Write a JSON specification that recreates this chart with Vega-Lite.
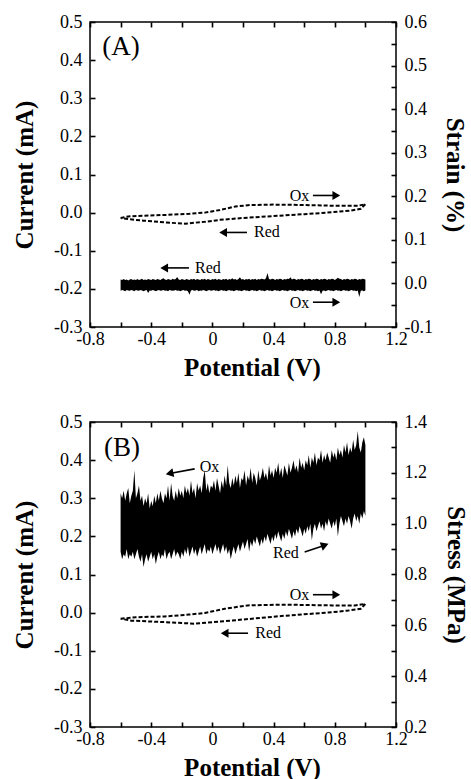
{
"$schema": "https://vega.github.io/schema/vega-lite/v6.json",
"padding": {"left": 11, "top": 12, "right": 0, "bottom": 0},
"spacing": 31,
"config": {
  "font": "Liberation Serif",
  "view": {"stroke": "black", "strokeWidth": 1.5},
  "axis": {"labelFont": "Liberation Serif", "labelFontSize": 18, "labelColor": "black", "titleFont": "Liberation Serif", "titleFontSize": 25, "titleFontWeight": "bold", "titleColor": "black", "domain": false, "ticks": true, "tickColor": "black", "tickOpacity": 1, "tickWidth": 1.6, "tickSize": 5, "offset": -5, "labelPadding": 8, "grid": false, "labelOverlap": false, "labelFlush": false, "zindex": 1},
  "text": {"font": "Liberation Serif", "color": "black"}
},
"datasets": {
  "loopA": [
    {"i":0,"x":-0.60,"y":-0.014},{"i":1,"x":-0.55,"y":-0.010},{"i":2,"x":-0.45,"y":-0.008},{"i":3,"x":-0.30,"y":-0.006},{"i":4,"x":-0.15,"y":-0.003},{"i":5,"x":-0.05,"y":0.000},{"i":6,"x":0.05,"y":0.007},{"i":7,"x":0.15,"y":0.016},{"i":8,"x":0.25,"y":0.020},{"i":9,"x":0.40,"y":0.021},{"i":10,"x":0.60,"y":0.020},{"i":11,"x":0.80,"y":0.018},{"i":12,"x":0.95,"y":0.018},{"i":13,"x":1.00,"y":0.022},{"i":14,"x":0.97,"y":0.010},{"i":15,"x":0.90,"y":0.005},{"i":16,"x":0.75,"y":0.000},{"i":17,"x":0.60,"y":-0.004},{"i":18,"x":0.40,"y":-0.009},{"i":19,"x":0.20,"y":-0.014},{"i":20,"x":0.05,"y":-0.019},{"i":21,"x":-0.05,"y":-0.024},{"i":22,"x":-0.18,"y":-0.029},{"i":23,"x":-0.30,"y":-0.026},{"i":24,"x":-0.45,"y":-0.021},{"i":25,"x":-0.55,"y":-0.017},{"i":26,"x":-0.60,"y":-0.014}
  ],
  "loopB": [
    {"i":0,"x":-0.60,"y":-0.016},{"i":1,"x":-0.50,"y":-0.012},{"i":2,"x":-0.31,"y":-0.010},{"i":3,"x":-0.15,"y":-0.005},{"i":4,"x":-0.05,"y":-0.001},{"i":5,"x":0.08,"y":0.010},{"i":6,"x":0.23,"y":0.019},{"i":7,"x":0.45,"y":0.021},{"i":8,"x":0.78,"y":0.019},{"i":9,"x":0.93,"y":0.019},{"i":10,"x":1.00,"y":0.023},{"i":11,"x":0.97,"y":0.010},{"i":12,"x":0.88,"y":0.005},{"i":13,"x":0.78,"y":0.001},{"i":14,"x":0.45,"y":-0.009},{"i":15,"x":0.12,"y":-0.021},{"i":16,"x":-0.12,"y":-0.029},{"i":17,"x":-0.31,"y":-0.025},{"i":18,"x":-0.53,"y":-0.021},{"i":19,"x":-0.60,"y":-0.016}
  ],
  "textA": [
    {"x":-0.72,"y":0.434,"text":"(A)","kind":"panel"},
    {"x":0.505,"y":0.044,"text":"Ox","kind":"note"},
    {"x":0.272,"y":-0.052,"text":"Red","kind":"note"},
    {"x":-0.114,"y":-0.145,"text":"Red","kind":"note"},
    {"x":0.505,"y":-0.237,"text":"Ox","kind":"note"}
  ],
  "arrowA": [
    {"x":0.657,"y":0.045,"x2":0.81,"y2":0.045,"angle":0},
    {"x":0.226,"y":-0.052,"x2":0.07,"y2":-0.052,"angle":180},
    {"x":-0.153,"y":-0.145,"x2":-0.315,"y2":-0.145,"angle":180},
    {"x":0.657,"y":-0.235,"x2":0.81,"y2":-0.235,"angle":0}
  ],
  "textB": [
    {"x":-0.708,"y":0.431,"text":"(B)","kind":"panel"},
    {"x":-0.083,"y":0.383,"text":"Ox","kind":"note"},
    {"x":0.396,"y":0.156,"text":"Red","kind":"note"},
    {"x":0.505,"y":0.045,"text":"Ox","kind":"note"},
    {"x":0.28,"y":-0.054,"text":"Red","kind":"note"}
  ],
  "arrowB": [
    {"x":-0.116,"y":0.377,"x2":-0.28,"y2":0.365,"angle":168},
    {"x":0.603,"y":0.159,"x2":0.735,"y2":0.177,"angle":340},
    {"x":0.657,"y":0.047,"x2":0.81,"y2":0.047,"angle":0},
    {"x":0.233,"y":-0.054,"x2":0.08,"y2":-0.054,"angle":180}
  ],
  "bandA": [
    {"x":-0.60,"lo":-0.017,"hi":0.009},{"x":-0.59,"lo":-0.015,"hi":0.008},{"x":-0.58,"lo":-0.016,"hi":0.010},{"x":-0.57,"lo":-0.018,"hi":0.008},{"x":-0.56,"lo":-0.015,"hi":0.009},{"x":-0.55,"lo":-0.016,"hi":0.007},{"x":-0.54,"lo":-0.017,"hi":0.009},{"x":-0.53,"lo":-0.015,"hi":0.010},{"x":-0.52,"lo":-0.016,"hi":0.008},{"x":-0.51,"lo":-0.018,"hi":0.009},
    {"x":-0.50,"lo":-0.015,"hi":0.008},{"x":-0.49,"lo":-0.016,"hi":0.010},{"x":-0.48,"lo":-0.017,"hi":0.008},{"x":-0.47,"lo":-0.015,"hi":0.009},{"x":-0.46,"lo":-0.016,"hi":0.011},{"x":-0.45,"lo":-0.018,"hi":0.008},{"x":-0.44,"lo":-0.016,"hi":0.009},{"x":-0.43,"lo":-0.015,"hi":0.008},{"x":-0.42,"lo":-0.022,"hi":0.010},{"x":-0.41,"lo":-0.016,"hi":0.009},
    {"x":-0.40,"lo":-0.017,"hi":0.008},{"x":-0.39,"lo":-0.015,"hi":0.010},{"x":-0.38,"lo":-0.016,"hi":0.009},{"x":-0.37,"lo":-0.018,"hi":0.008},{"x":-0.36,"lo":-0.016,"hi":0.010},{"x":-0.35,"lo":-0.015,"hi":0.009},{"x":-0.34,"lo":-0.017,"hi":0.008},{"x":-0.33,"lo":-0.016,"hi":0.010},{"x":-0.32,"lo":-0.015,"hi":0.012},{"x":-0.31,"lo":-0.017,"hi":0.009},
    {"x":-0.30,"lo":-0.016,"hi":0.008},{"x":-0.29,"lo":-0.018,"hi":0.010},{"x":-0.28,"lo":-0.015,"hi":0.009},{"x":-0.27,"lo":-0.016,"hi":0.008},{"x":-0.26,"lo":-0.017,"hi":0.011},{"x":-0.25,"lo":-0.016,"hi":0.009},{"x":-0.24,"lo":-0.015,"hi":0.010},{"x":-0.23,"lo":-0.017,"hi":0.015},{"x":-0.22,"lo":-0.016,"hi":0.009},{"x":-0.21,"lo":-0.018,"hi":0.008},
    {"x":-0.20,"lo":-0.016,"hi":0.010},{"x":-0.19,"lo":-0.015,"hi":0.009},{"x":-0.18,"lo":-0.017,"hi":0.008},{"x":-0.17,"lo":-0.016,"hi":0.010},{"x":-0.16,"lo":-0.018,"hi":0.009},{"x":-0.15,"lo":-0.026,"hi":0.008},{"x":-0.14,"lo":-0.016,"hi":0.010},{"x":-0.13,"lo":-0.015,"hi":0.009},{"x":-0.12,"lo":-0.017,"hi":0.011},{"x":-0.11,"lo":-0.016,"hi":0.008},
    {"x":-0.10,"lo":-0.015,"hi":0.010},{"x":-0.09,"lo":-0.018,"hi":0.009},{"x":-0.08,"lo":-0.016,"hi":0.008},{"x":-0.07,"lo":-0.017,"hi":0.010},{"x":-0.06,"lo":-0.015,"hi":0.009},{"x":-0.05,"lo":-0.016,"hi":0.011},{"x":-0.04,"lo":-0.018,"hi":0.008},{"x":-0.03,"lo":-0.016,"hi":0.010},{"x":-0.02,"lo":-0.015,"hi":0.009},{"x":-0.01,"lo":-0.017,"hi":0.008},
    {"x":0.00,"lo":-0.016,"hi":0.010},{"x":0.01,"lo":-0.015,"hi":0.009},{"x":0.02,"lo":-0.017,"hi":0.011},{"x":0.03,"lo":-0.016,"hi":0.008},{"x":0.04,"lo":-0.018,"hi":0.010},{"x":0.05,"lo":-0.016,"hi":0.009},{"x":0.06,"lo":-0.015,"hi":0.008},{"x":0.07,"lo":-0.017,"hi":0.010},{"x":0.08,"lo":-0.016,"hi":0.009},{"x":0.09,"lo":-0.018,"hi":0.011},
    {"x":0.10,"lo":-0.016,"hi":0.008},{"x":0.11,"lo":-0.015,"hi":0.010},{"x":0.12,"lo":-0.017,"hi":0.009},{"x":0.13,"lo":-0.016,"hi":0.012},{"x":0.14,"lo":-0.018,"hi":0.009},{"x":0.15,"lo":-0.016,"hi":0.010},{"x":0.16,"lo":-0.015,"hi":0.008},{"x":0.17,"lo":-0.017,"hi":0.010},{"x":0.18,"lo":-0.016,"hi":0.014},{"x":0.19,"lo":-0.018,"hi":0.009},
    {"x":0.20,"lo":-0.016,"hi":0.010},{"x":0.21,"lo":-0.015,"hi":0.008},{"x":0.22,"lo":-0.017,"hi":0.010},{"x":0.23,"lo":-0.016,"hi":0.009},{"x":0.24,"lo":-0.018,"hi":0.011},{"x":0.25,"lo":-0.016,"hi":0.008},{"x":0.26,"lo":-0.015,"hi":0.010},{"x":0.27,"lo":-0.017,"hi":0.009},{"x":0.28,"lo":-0.016,"hi":0.011},{"x":0.29,"lo":-0.018,"hi":0.008},
    {"x":0.30,"lo":-0.016,"hi":0.010},{"x":0.31,"lo":-0.015,"hi":0.009},{"x":0.32,"lo":-0.017,"hi":0.011},{"x":0.33,"lo":-0.016,"hi":0.010},{"x":0.34,"lo":-0.018,"hi":0.009},{"x":0.35,"lo":-0.016,"hi":0.012},{"x":0.36,"lo":-0.015,"hi":0.024},{"x":0.37,"lo":-0.017,"hi":0.010},{"x":0.38,"lo":-0.016,"hi":0.009},{"x":0.39,"lo":-0.018,"hi":0.011},
    {"x":0.40,"lo":-0.016,"hi":0.010},{"x":0.41,"lo":-0.015,"hi":0.008},{"x":0.42,"lo":-0.017,"hi":0.010},{"x":0.43,"lo":-0.016,"hi":0.009},{"x":0.44,"lo":-0.018,"hi":0.011},{"x":0.45,"lo":-0.016,"hi":0.010},{"x":0.46,"lo":-0.015,"hi":0.008},{"x":0.47,"lo":-0.017,"hi":0.010},{"x":0.48,"lo":-0.016,"hi":0.009},{"x":0.49,"lo":-0.018,"hi":0.011},
    {"x":0.50,"lo":-0.016,"hi":0.010},{"x":0.51,"lo":-0.015,"hi":0.014},{"x":0.52,"lo":-0.017,"hi":0.009},{"x":0.53,"lo":-0.016,"hi":0.011},{"x":0.54,"lo":-0.018,"hi":0.010},{"x":0.55,"lo":-0.016,"hi":0.008},{"x":0.56,"lo":-0.015,"hi":0.010},{"x":0.57,"lo":-0.017,"hi":0.009},{"x":0.58,"lo":-0.016,"hi":0.011},{"x":0.59,"lo":-0.018,"hi":0.010},
    {"x":0.60,"lo":-0.016,"hi":0.008},{"x":0.61,"lo":-0.015,"hi":0.010},{"x":0.62,"lo":-0.017,"hi":0.009},{"x":0.63,"lo":-0.016,"hi":0.011},{"x":0.64,"lo":-0.018,"hi":0.010},{"x":0.65,"lo":-0.016,"hi":0.008},{"x":0.66,"lo":-0.015,"hi":0.010},{"x":0.67,"lo":-0.017,"hi":0.009},{"x":0.68,"lo":-0.016,"hi":0.011},{"x":0.69,"lo":-0.018,"hi":0.010},
    {"x":0.70,"lo":-0.016,"hi":0.008},{"x":0.71,"lo":-0.025,"hi":0.010},{"x":0.72,"lo":-0.017,"hi":0.009},{"x":0.73,"lo":-0.016,"hi":0.011},{"x":0.74,"lo":-0.018,"hi":0.010},{"x":0.75,"lo":-0.016,"hi":0.008},{"x":0.76,"lo":-0.015,"hi":0.010},{"x":0.77,"lo":-0.017,"hi":0.009},{"x":0.78,"lo":-0.016,"hi":0.011},{"x":0.79,"lo":-0.018,"hi":0.010},
    {"x":0.80,"lo":-0.016,"hi":0.008},{"x":0.81,"lo":-0.015,"hi":0.010},{"x":0.82,"lo":-0.017,"hi":0.013},{"x":0.83,"lo":-0.016,"hi":0.011},{"x":0.84,"lo":-0.018,"hi":0.010},{"x":0.85,"lo":-0.016,"hi":0.008},{"x":0.86,"lo":-0.015,"hi":0.010},{"x":0.87,"lo":-0.017,"hi":0.009},{"x":0.88,"lo":-0.016,"hi":0.011},{"x":0.89,"lo":-0.018,"hi":0.010},
    {"x":0.90,"lo":-0.016,"hi":0.008},{"x":0.91,"lo":-0.015,"hi":0.010},{"x":0.92,"lo":-0.017,"hi":0.009},{"x":0.93,"lo":-0.016,"hi":0.011},{"x":0.94,"lo":-0.018,"hi":0.010},{"x":0.95,"lo":-0.016,"hi":0.008},{"x":0.96,"lo":-0.031,"hi":0.010},{"x":0.97,"lo":-0.017,"hi":0.009},{"x":0.98,"lo":-0.016,"hi":0.011},{"x":0.99,"lo":-0.018,"hi":0.010},
    {"x":1.00,"lo":-0.016,"hi":0.009}
  ],
  "bandB": [
    {"x":-0.60,"hi":1.12,"lo":0.89},{"x":-0.59,"hi":1.10,"lo":0.86},{"x":-0.58,"hi":1.13,"lo":0.88},{"x":-0.57,"hi":1.09,"lo":0.87},{"x":-0.56,"hi":1.12,"lo":0.90},{"x":-0.55,"hi":1.14,"lo":0.86},{"x":-0.54,"hi":1.08,"lo":0.88},{"x":-0.53,"hi":1.11,"lo":0.87},{"x":-0.52,"hi":1.13,"lo":0.89},{"x":-0.51,"hi":1.21,"lo":0.86},
    {"x":-0.50,"hi":1.10,"lo":0.88},{"x":-0.49,"hi":1.12,"lo":0.90},{"x":-0.48,"hi":1.15,"lo":0.87},{"x":-0.47,"hi":1.09,"lo":0.85},{"x":-0.46,"hi":1.11,"lo":0.88},{"x":-0.45,"hi":1.07,"lo":0.83},{"x":-0.44,"hi":1.10,"lo":0.86},{"x":-0.43,"hi":1.08,"lo":0.88},{"x":-0.42,"hi":1.12,"lo":0.85},{"x":-0.41,"hi":1.06,"lo":0.87},
    {"x":-0.40,"hi":1.09,"lo":0.89},{"x":-0.39,"hi":1.07,"lo":0.86},{"x":-0.38,"hi":1.11,"lo":0.88},{"x":-0.37,"hi":1.08,"lo":0.84},{"x":-0.36,"hi":1.12,"lo":0.87},{"x":-0.35,"hi":1.09,"lo":0.89},{"x":-0.34,"hi":1.13,"lo":0.86},{"x":-0.33,"hi":1.10,"lo":0.88},{"x":-0.32,"hi":1.08,"lo":0.87},{"x":-0.31,"hi":1.12,"lo":0.90},
    {"x":-0.30,"hi":1.10,"lo":0.86},{"x":-0.29,"hi":1.15,"lo":0.88},{"x":-0.28,"hi":1.09,"lo":0.89},{"x":-0.27,"hi":1.16,"lo":0.86},{"x":-0.26,"hi":1.11,"lo":0.88},{"x":-0.25,"hi":1.09,"lo":0.90},{"x":-0.24,"hi":1.13,"lo":0.87},{"x":-0.23,"hi":1.10,"lo":0.89},{"x":-0.22,"hi":1.14,"lo":0.88},{"x":-0.21,"hi":1.11,"lo":0.86},
    {"x":-0.20,"hi":1.13,"lo":0.89},{"x":-0.19,"hi":1.10,"lo":0.87},{"x":-0.18,"hi":1.15,"lo":0.90},{"x":-0.17,"hi":1.12,"lo":0.88},{"x":-0.16,"hi":1.14,"lo":0.91},{"x":-0.15,"hi":1.11,"lo":0.87},{"x":-0.14,"hi":1.17,"lo":0.89},{"x":-0.13,"hi":1.12,"lo":0.91},{"x":-0.12,"hi":1.14,"lo":0.88},{"x":-0.11,"hi":1.10,"lo":0.90},
    {"x":-0.10,"hi":1.16,"lo":0.87},{"x":-0.09,"hi":1.13,"lo":0.89},{"x":-0.08,"hi":1.15,"lo":0.91},{"x":-0.07,"hi":1.12,"lo":0.88},{"x":-0.06,"hi":1.18,"lo":0.90},{"x":-0.05,"hi":1.21,"lo":0.92},{"x":-0.04,"hi":1.13,"lo":0.88},{"x":-0.03,"hi":1.16,"lo":0.90},{"x":-0.02,"hi":1.12,"lo":0.89},{"x":-0.01,"hi":1.15,"lo":0.91},
    {"x":0.00,"hi":1.14,"lo":0.88},{"x":0.01,"hi":1.17,"lo":0.90},{"x":0.02,"hi":1.13,"lo":0.92},{"x":0.03,"hi":1.18,"lo":0.89},{"x":0.04,"hi":1.15,"lo":0.91},{"x":0.05,"hi":1.12,"lo":0.88},{"x":0.06,"hi":1.17,"lo":0.90},{"x":0.07,"hi":1.14,"lo":0.92},{"x":0.08,"hi":1.19,"lo":0.89},{"x":0.09,"hi":1.15,"lo":0.91},
    {"x":0.10,"hi":1.23,"lo":0.88},{"x":0.11,"hi":1.16,"lo":0.90},{"x":0.12,"hi":1.14,"lo":0.86},{"x":0.13,"hi":1.18,"lo":0.89},{"x":0.14,"hi":1.15,"lo":0.91},{"x":0.15,"hi":1.19,"lo":0.88},{"x":0.16,"hi":1.16,"lo":0.90},{"x":0.17,"hi":1.20,"lo":0.92},{"x":0.18,"hi":1.14,"lo":0.89},{"x":0.19,"hi":1.18,"lo":0.91},
    {"x":0.20,"hi":1.17,"lo":0.93},{"x":0.21,"hi":1.21,"lo":0.90},{"x":0.22,"hi":1.15,"lo":0.92},{"x":0.23,"hi":1.19,"lo":0.94},{"x":0.24,"hi":1.17,"lo":0.89},{"x":0.25,"hi":1.22,"lo":0.93},{"x":0.26,"hi":1.16,"lo":0.91},{"x":0.27,"hi":1.20,"lo":0.94},{"x":0.28,"hi":1.18,"lo":0.92},{"x":0.29,"hi":1.15,"lo":0.95},
    {"x":0.30,"hi":1.21,"lo":0.93},{"x":0.31,"hi":1.17,"lo":0.91},{"x":0.32,"hi":1.19,"lo":0.94},{"x":0.33,"hi":1.22,"lo":0.92},{"x":0.34,"hi":1.18,"lo":0.95},{"x":0.35,"hi":1.20,"lo":0.93},{"x":0.36,"hi":1.17,"lo":0.96},{"x":0.37,"hi":1.23,"lo":0.94},{"x":0.38,"hi":1.19,"lo":0.92},{"x":0.39,"hi":1.21,"lo":0.95},
    {"x":0.40,"hi":1.18,"lo":0.93},{"x":0.41,"hi":1.22,"lo":0.96},{"x":0.42,"hi":1.20,"lo":0.94},{"x":0.43,"hi":1.24,"lo":0.97},{"x":0.44,"hi":1.19,"lo":0.95},{"x":0.45,"hi":1.22,"lo":0.93},{"x":0.46,"hi":1.18,"lo":0.96},{"x":0.47,"hi":1.23,"lo":0.94},{"x":0.48,"hi":1.21,"lo":0.97},{"x":0.49,"hi":1.19,"lo":0.95},
    {"x":0.50,"hi":1.24,"lo":0.98},{"x":0.51,"hi":1.20,"lo":0.96},{"x":0.52,"hi":1.22,"lo":0.94},{"x":0.53,"hi":1.25,"lo":0.97},{"x":0.54,"hi":1.21,"lo":0.95},{"x":0.55,"hi":1.23,"lo":0.98},{"x":0.56,"hi":1.20,"lo":0.96},{"x":0.57,"hi":1.26,"lo":0.99},{"x":0.58,"hi":1.22,"lo":0.97},{"x":0.59,"hi":1.24,"lo":0.95},
    {"x":0.60,"hi":1.21,"lo":0.98},{"x":0.61,"hi":1.25,"lo":0.96},{"x":0.62,"hi":1.23,"lo":0.99},{"x":0.63,"hi":1.27,"lo":0.97},{"x":0.64,"hi":1.22,"lo":1.00},{"x":0.65,"hi":1.26,"lo":0.935},{"x":0.66,"hi":1.24,"lo":0.98},{"x":0.67,"hi":1.28,"lo":1.00},{"x":0.68,"hi":1.23,"lo":0.97},{"x":0.69,"hi":1.26,"lo":0.99},
    {"x":0.70,"hi":1.25,"lo":1.01},{"x":0.71,"hi":1.29,"lo":0.98},{"x":0.72,"hi":1.24,"lo":1.00},{"x":0.73,"hi":1.27,"lo":0.97},{"x":0.74,"hi":1.25,"lo":1.01},{"x":0.75,"hi":1.28,"lo":0.99},{"x":0.76,"hi":1.26,"lo":1.02},{"x":0.77,"hi":1.24,"lo":1.00},{"x":0.78,"hi":1.29,"lo":0.98},{"x":0.79,"hi":1.26,"lo":1.01},
    {"x":0.80,"hi":1.28,"lo":0.99},{"x":0.81,"hi":1.25,"lo":1.02},{"x":0.82,"hi":1.30,"lo":0.95},{"x":0.83,"hi":1.27,"lo":1.00},{"x":0.84,"hi":1.29,"lo":1.03},{"x":0.85,"hi":1.26,"lo":1.01},{"x":0.86,"hi":1.31,"lo":0.99},{"x":0.87,"hi":1.28,"lo":1.02},{"x":0.88,"hi":1.32,"lo":1.00},{"x":0.89,"hi":1.27,"lo":1.03},
    {"x":0.90,"hi":1.30,"lo":1.01},{"x":0.91,"hi":1.28,"lo":0.98},{"x":0.92,"hi":1.33,"lo":1.02},{"x":0.93,"hi":1.29,"lo":1.04},{"x":0.94,"hi":1.31,"lo":1.01},{"x":0.95,"hi":1.365,"lo":1.03},{"x":0.96,"hi":1.30,"lo":1.00},{"x":0.97,"hi":1.28,"lo":1.04},{"x":0.98,"hi":1.32,"lo":1.02},{"x":0.99,"hi":1.34,"lo":1.05},
    {"x":1.00,"hi":1.31,"lo":1.03}
  ]
},
"vconcat": [
  {
    "width": 306, "height": 305,
    "resolve": {"scale": {"y": "independent"}, "axis": {"x": "independent"}},
    "layer": [
      {
        "encoding": {
          "x": {"field": "x", "type": "quantitative", "scale": {"domain": [-0.8, 1.2], "nice": false, "zero": false},
                "axis": {"orient": "bottom", "title": "Potential (V)", "values": [-0.8,-0.6,-0.4,-0.2,0,0.2,0.4,0.6,0.8,1.0,1.2], "labelPadding": 3, "titlePadding": 7, "titleX": 162,
                         "labelExpr": "abs(round(datum.value*10)) % 4 == 0 ? (abs(datum.value) < 1e-9 ? '0' : replace(format(datum.value, '.1f'), '\u2212', '-')) : ''"}},
          "y": {"field": "y", "type": "quantitative", "scale": {"domain": [-0.3, 0.5], "nice": false, "zero": false},
                "axis": {"orient": "left", "title": "Current (mA)", "values": [-0.3,-0.2,-0.1,0,0.1,0.2,0.3,0.4,0.5], "titlePadding": 16,
                         "labelExpr": "replace(format(datum.value, '.1f'), '\u2212', '-')"}}
        },
        "layer": [
          {"data": {"name": "loopA"}, "mark": {"type": "line", "strokeDash": [4, 2], "strokeWidth": 2, "color": "black"},
           "encoding": {"order": {"field": "i", "type": "quantitative"}}},
          {"data": {"name": "arrowA"}, "mark": {"type": "rule", "strokeWidth": 1.6, "color": "black"},
           "encoding": {"x2": {"field": "x2"}, "y2": {"field": "y2"}}},
          {"data": {"name": "arrowA"}, "mark": {"type": "point", "shape": "triangle-right", "filled": true, "size": 80, "color": "black", "opacity": 1},
           "encoding": {"x": {"field": "x2", "type": "quantitative"}, "y": {"field": "y2", "type": "quantitative"}, "angle": {"field": "angle", "type": "quantitative", "scale": null}}},
          {"data": {"name": "textA"}, "transform": [{"filter": "datum.kind == 'note'"}], "mark": {"type": "text", "align": "left", "baseline": "middle", "fontSize": 16},
           "encoding": {"text": {"field": "text"}}},
          {"data": {"name": "textA"}, "transform": [{"filter": "datum.kind == 'panel'"}], "mark": {"type": "text", "align": "left", "baseline": "middle", "fontSize": 27},
           "encoding": {"text": {"field": "text"}}}
        ]
      },
      {
        "data": {"name": "bandA"},
        "mark": {"type": "area", "color": "black", "opacity": 1, "interpolate": "linear"},
        "encoding": {
          "x": {"field": "x", "type": "quantitative", "scale": {"domain": [-0.8, 1.2], "nice": false, "zero": false},
                "axis": {"orient": "top", "labels": false, "title": null, "values": [-0.8,-0.6,-0.4,-0.2,0,0.2,0.4,0.6,0.8,1.0,1.2]}},
          "y": {"field": "lo", "type": "quantitative", "scale": {"domain": [-0.1, 0.6], "nice": false, "zero": false},
                "axis": {"orient": "right", "title": "Strain (%)", "titlePadding": 9, "values": [-0.1,-0.05,0,0.05,0.1,0.15,0.2,0.25,0.3,0.35,0.4,0.45,0.5,0.55,0.6],
                         "labelExpr": "abs(round(datum.value*100)) % 10 == 0 ? replace(format(datum.value, '.1f'), '\u2212', '-') : ''"}},
          "y2": {"field": "hi"}
        }
      }
    ]
  },
  {
    "width": 306, "height": 305,
    "resolve": {"scale": {"y": "independent"}, "axis": {"x": "independent"}},
    "layer": [
      {
        "encoding": {
          "x": {"field": "x", "type": "quantitative", "scale": {"domain": [-0.8, 1.2], "nice": false, "zero": false},
                "axis": {"orient": "bottom", "title": "Potential (V)", "values": [-0.8,-0.6,-0.4,-0.2,0,0.2,0.4,0.6,0.8,1.0,1.2], "labelPadding": 3, "titlePadding": 7, "titleX": 162,
                         "labelExpr": "abs(round(datum.value*10)) % 4 == 0 ? (abs(datum.value) < 1e-9 ? '0' : replace(format(datum.value, '.1f'), '\u2212', '-')) : ''"}},
          "y": {"field": "y", "type": "quantitative", "scale": {"domain": [-0.3, 0.5], "nice": false, "zero": false},
                "axis": {"orient": "left", "title": "Current (mA)", "values": [-0.3,-0.2,-0.1,0,0.1,0.2,0.3,0.4,0.5], "titlePadding": 16,
                         "labelExpr": "replace(format(datum.value, '.1f'), '\u2212', '-')"}}
        },
        "layer": [
          {"data": {"name": "loopB"}, "mark": {"type": "line", "strokeDash": [4, 2], "strokeWidth": 2, "color": "black"},
           "encoding": {"order": {"field": "i", "type": "quantitative"}}},
          {"data": {"name": "arrowB"}, "mark": {"type": "rule", "strokeWidth": 1.6, "color": "black"},
           "encoding": {"x2": {"field": "x2"}, "y2": {"field": "y2"}}},
          {"data": {"name": "arrowB"}, "mark": {"type": "point", "shape": "triangle-right", "filled": true, "size": 80, "color": "black", "opacity": 1},
           "encoding": {"x": {"field": "x2", "type": "quantitative"}, "y": {"field": "y2", "type": "quantitative"}, "angle": {"field": "angle", "type": "quantitative", "scale": null}}},
          {"data": {"name": "textB"}, "transform": [{"filter": "datum.kind == 'note'"}], "mark": {"type": "text", "align": "left", "baseline": "middle", "fontSize": 16},
           "encoding": {"text": {"field": "text"}}},
          {"data": {"name": "textB"}, "transform": [{"filter": "datum.kind == 'panel'"}], "mark": {"type": "text", "align": "left", "baseline": "middle", "fontSize": 27},
           "encoding": {"text": {"field": "text"}}}
        ]
      },
      {
        "data": {"name": "bandB"},
        "mark": {"type": "area", "color": "black", "opacity": 1, "interpolate": "linear"},
        "encoding": {
          "x": {"field": "x", "type": "quantitative", "scale": {"domain": [-0.8, 1.2], "nice": false, "zero": false},
                "axis": {"orient": "top", "labels": false, "title": null, "values": [-0.8,-0.6,-0.4,-0.2,0,0.2,0.4,0.6,0.8,1.0,1.2]}},
          "y": {"field": "lo", "type": "quantitative", "scale": {"domain": [0.2, 1.4], "nice": false, "zero": false},
                "axis": {"orient": "right", "title": "Stress (MPa)", "titlePadding": 16, "values": [0.2,0.3,0.4,0.5,0.6,0.7,0.8,0.9,1.0,1.1,1.2,1.3,1.4],
                         "labelExpr": "round(datum.value*10) % 2 == 0 ? format(datum.value, '.1f') : ''"}},
          "y2": {"field": "hi"}
        }
      }
    ]
  }
]
}
